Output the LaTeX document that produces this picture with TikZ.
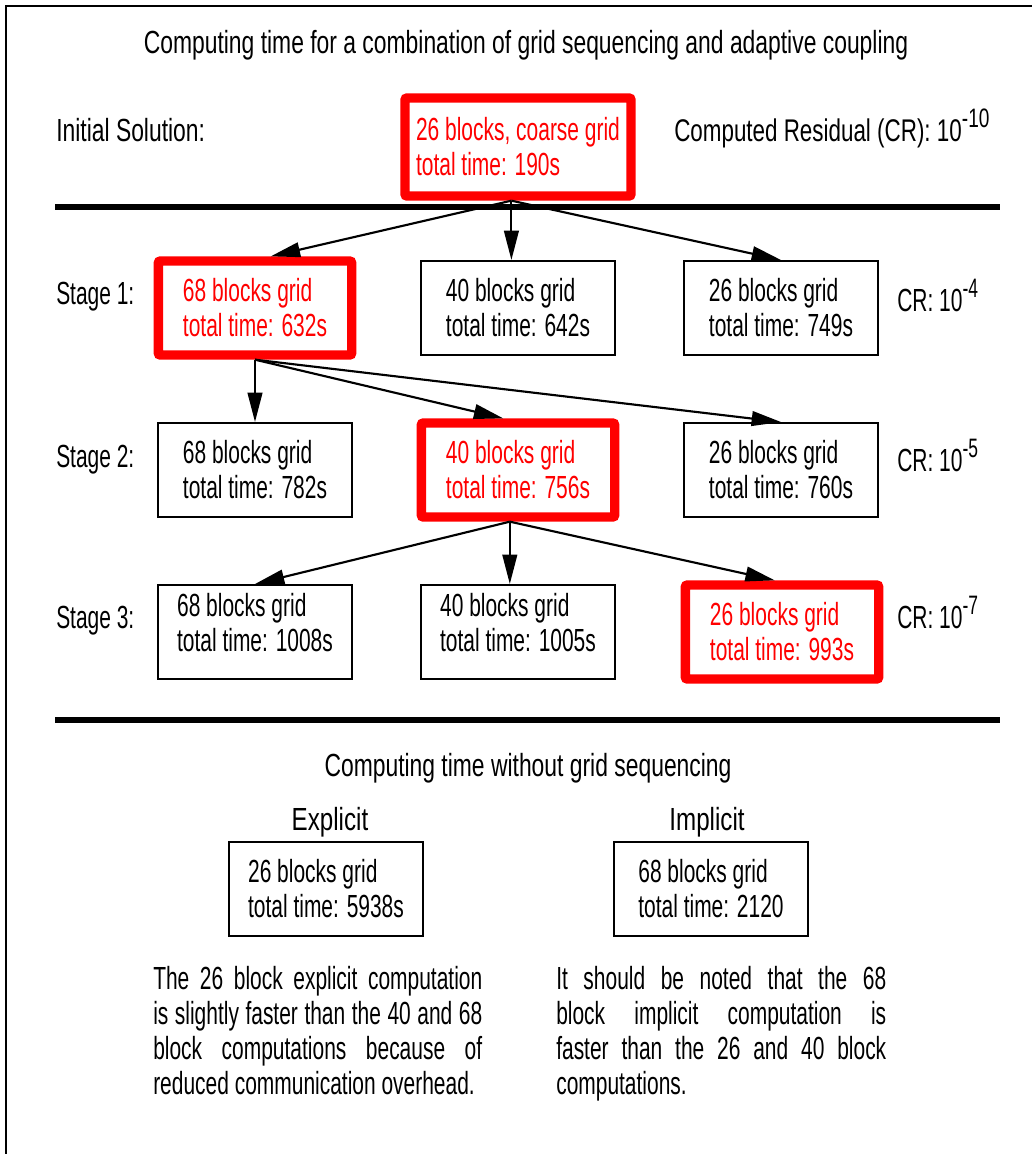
\documentclass[tikz,border=0pt]{standalone}
\usepackage{fontspec}
\setmainfont{Liberation Sans}[FakeStretch=0.655]
\newfontfamily\fttl{Liberation Sans}[FakeStretch=0.715]
\newfontfamily\fwide{Liberation Sans}[FakeStretch=0.755]
\usetikzlibrary{arrows.meta}
\definecolor{hred}{RGB}{255,0,0}
\newcommand\pw[1]{\raisebox{10pt}{\fontsize{20}{20}\selectfont -#1}}
\begin{document}
\begin{tikzpicture}[x=0.75pt,y=-0.75pt,
  every node/.style={font=\fontsize{24}{26.25}\selectfont, inner sep=0pt},
  box/.style={draw=black, line width=1.5pt, minimum width=145pt, minimum height=70.5pt, align=left},
  hbox/.style={draw=hred, line width=7pt, text=hred, rounded corners=1.5pt, minimum width=145pt, minimum height=70.5pt, align=left},
  up/.style={text depth=15pt},
  arr/.style={line width=1.6pt, -{Triangle[length=22pt,width=11pt]}},
  sep/.style={line width=4.5pt},
  lbl/.style={anchor=base west},
  ttl/.style={anchor=base}]
\useasboundingbox (0,0) rectangle (1032,1154);
% frame
\draw[line width=1.8pt] (6,1154) -- (6,6) -- (1032,6);
% titles
\node[ttl, font=\fontsize{24}{26.25}\fttl] (title) at (526,53) {Computing time for a combination of grid sequencing and adaptive coupling};
\node[lbl, font=\fontsize{24}{26.25}\fttl] (initl) at (56,141) {Initial Solution:};
\node[lbl, font=\fontsize{23.5}{26.25}\fttl] (cr0) at (674,141) {Computed Residual (CR): 10\pw{10}};
\node[hbox, minimum width=169.5pt, minimum height=73.5pt] (init) at (518,147) {26 blocks, coarse grid\\total time: 190s};
\draw[sep] (55,207) -- (1000,207);
% stage 1
\node[lbl] (st1) at (56,304) {Stage 1:};
\node[hbox] (s1a) at (255,308) {68 blocks grid\\total time: 632s};
\node[box] (s1b) at (518,308) {40 blocks grid\\total time: 642s};
\node[box] (s1c) at (781,308) {26 blocks grid\\total time: 749s};
\node[lbl] (cr1) at (897,311) {CR: 10\pw{4}};
% stage 2
\node[lbl] (st2) at (56,467) {Stage 2:};
\node[box] (s2a) at (255,470) {68 blocks grid\\total time: 782s};
\node[hbox] (s2b) at (518,470) {40 blocks grid\\total time: 756s};
\node[box] (s2c) at (781,470) {26 blocks grid\\total time: 760s};
\node[lbl] (cr2) at (897,471) {CR: 10\pw{5}};
% stage 3
\node[lbl] (st3) at (56,628) {Stage 3:};
\node[box, up] (s3a) at (255,632) {68 blocks grid\\total time: 1008s};
\node[box, up] (s3b) at (518,632) {40 blocks grid\\total time: 1005s};
\node[hbox] (s3c) at (782,632) {26 blocks grid\\total time: 993s};
\node[lbl] (cr3) at (897,628) {CR: 10\pw{7}};
% arrows
\draw[arr] (init.-97.5) -- (s1a.73.3);
\draw[arr] (init.-97.5) -- (init.-97.5 |- s1b.north);
\draw[arr] (init.-97.5) -- (s1c.north);
\draw[arr] (s1a.south) -- (s2a.north);
\draw[arr] (s1a.south) -- (s2b.106.4);
\draw[arr] (s1a.south) -- (s2c.north);
\draw[arr] (s2b.-99.6) -- (s3a.north);
\draw[arr] (s2b.-99.6) -- (s2b.-99.6 |- s3b.north);
\draw[arr] (s2b.-99.6) -- (s3c.98.7);
\draw[sep] (55,720) -- (1000,720);
% without grid sequencing
\node[ttl, font=\fontsize{24}{26.25}\fttl] (title2) at (528,776) {Computing time without grid sequencing};
\node[ttl, font=\fontsize{24}{26.25}\fwide] (expl) at (330,830) {Explicit};
\node[ttl, font=\fontsize{24}{26.25}\fwide] (impl) at (707,830) {Implicit};
\node[box] (ex) at (326,889) {26 blocks grid\\total time: 5938s};
\node[box] (im) at (711,889) {68 blocks grid\\total time: 2120};
\node[anchor=north west, align=left] (pex) at (153,966) {%
\makebox[246.75pt][s]{The 26 block explicit computation}\\
\makebox[246.75pt][s]{is slightly faster than the 40 and 68}\\
\makebox[246.75pt][s]{block computations because of}\\
reduced communication overhead.};
\node[anchor=north west, align=left] (pim) at (556,966) {%
\makebox[247.5pt][s]{It should be noted that the 68}\\
\makebox[247.5pt][s]{block implicit computation is}\\
\makebox[247.5pt][s]{faster than the 26 and 40 block}\\
computations.};
\end{tikzpicture}
\end{document}
